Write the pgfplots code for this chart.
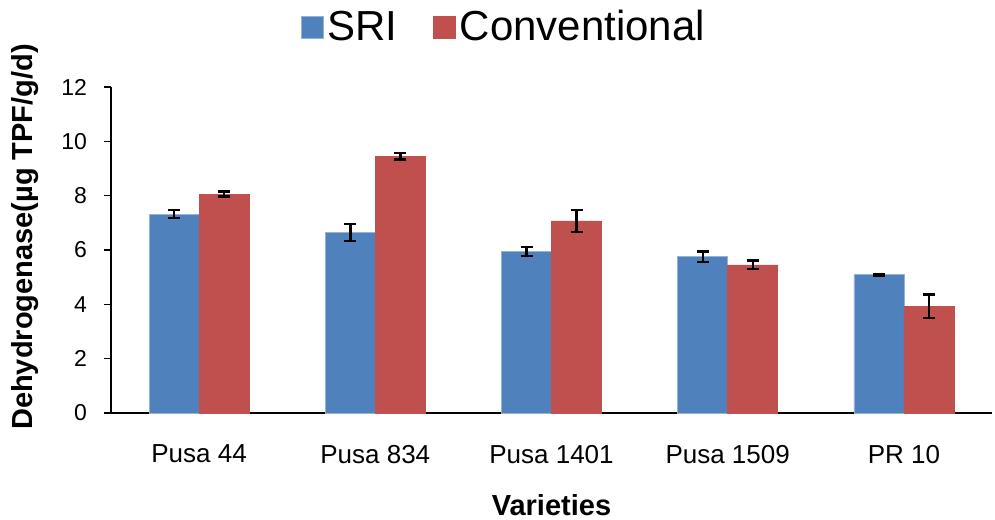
\documentclass[border=0pt]{standalone}
\usepackage{pgfplots}
\pgfplotsset{compat=1.18}
\usepackage{fontspec}
\setmainfont{Liberation Sans}
\definecolor{sriblue}{HTML}{4F81BD}
\definecolor{convred}{HTML}{C0504D}
\begin{document}
\begin{tikzpicture}
\begin{axis}[
  scale only axis,
  width=440.5pt, height=163pt,
  ybar=0pt, bar width=25pt,
  xmin=-0.5, xmax=4.5,
  ymin=0, ymax=12,
  xtick={0,1,2,3,4},
  xticklabels={Pusa 44,Pusa 834,Pusa 1401,Pusa 1509,PR 10},
  ytick={0,2,4,6,8,10,12},
  axis lines*=left,
  axis line style={black, line width=0.8pt},
  tick align=outside,
  major tick length=3.5pt,
  ytick style={black, line width=0.7pt},
  xtick style={draw=none},
  /pgf/number format/assume math mode=true,
  yticklabel style={font=\fontsize{11.5}{13}\selectfont, xshift=-5pt},
  xticklabel style={font=\fontsize{13}{15}\selectfont, yshift=-9pt},
  xlabel={\textbf{Varieties}},
  ylabel={\textbf{Dehydrogenase(µg TPF/g/d)}},
  xlabel style={font=\fontsize{14.5}{17}\selectfont, at={(axis description cs:0.5,-0.283)}, anchor=center},
  ylabel style={font=\fontsize{14.5}{17}\selectfont, at={(axis description cs:-0.098,0.54)}, anchor=center},
  legend style={draw=none, legend columns=-1, at={(0.447,1.184)}, anchor=center,
    font=\fontsize{21}{25}\selectfont,
    /tikz/every even column/.append style={column sep=16pt},
    /tikz/every odd column/.append style={column sep=0pt}},
  legend image code/.code={\fill[#1] (0pt,-5.5pt) rectangle (11pt,5.5pt);},
  error bars/error bar style={line width=1.2pt, black},
  error bars/error mark options={rotate=90, mark size=3pt, line width=1.2pt, black},
]
\addplot[fill=sriblue, draw=sriblue!60!white, line width=0.3pt,
  error bars/.cd, y dir=both, y explicit]
  coordinates {(0,7.32) +- (0,0.15) (1,6.65) +- (0,0.31) (2,5.94) +- (0,0.16) (3,5.75) +- (0,0.20) (4,5.09) +- (0,0.03)};
\addplot[fill=convred, draw=convred, line width=0.3pt,
  error bars/.cd, y dir=both, y explicit]
  coordinates {(0,8.06) +- (0,0.09) (1,9.45) +- (0,0.12) (2,7.07) +- (0,0.40) (3,5.45) +- (0,0.16) (4,3.93) +- (0,0.43)};
\legend{SRI,Conventional}
\coordinate (O) at (rel axis cs:0,0);
\end{axis}
\pgfresetboundingbox
\path (O) ++(-55.5pt,-53pt) rectangle ++(497.5pt,259.5pt);
\end{tikzpicture}
\end{document}
